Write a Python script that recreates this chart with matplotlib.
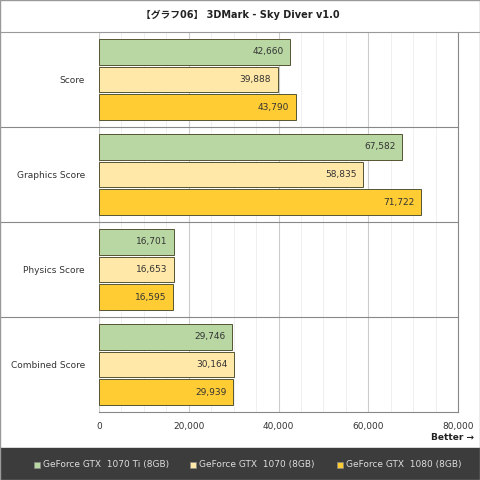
import matplotlib.pyplot as plt
import numpy as np

plt.rcParams['font.family'] = ['DejaVu Sans', 'Noto Sans CJK JP']

categories = ["Score", "Graphics Score", "Physics Score", "Combined Score"]
series = ["GeForce GTX  1070 Ti (8GB)", "GeForce GTX  1070 (8GB)", "GeForce GTX  1080 (8GB)"]
values = [
    [42660, 67582, 16701, 29746],
    [39888, 58835, 16653, 30164],
    [43790, 71722, 16595, 29939],
]
colors = ["#b8d7a3", "#ffe8a8", "#ffcc33"]

fig = plt.figure(figsize=(4.8, 4.8), dpi=100)
W, H = 480, 480
ax = fig.add_axes([99 / W, (H - 412) / H, (458 - 99) / W, (412 - 32) / H])

ax.set_xlim(0, 80000)
ax.set_ylim(len(categories), 0)
ax.set_xticks(np.arange(0, 80001, 20000))
ax.set_xticklabels([f"{v:,}" for v in range(0, 80001, 20000)], fontsize=6.5, color="#333333")
ax.set_xticks(np.arange(0, 80001, 5000), minor=True)
ax.grid(True, axis="x", which="major", color="#cccccc", lw=0.8)
ax.grid(True, axis="x", which="minor", color="#eeeeee", lw=0.6)
ax.set_axisbelow(True)
ax.tick_params(axis="x", which="both", length=0, pad=7)
ax.tick_params(axis="y", length=0, pad=10)
ax.set_yticks(np.arange(len(categories)) + 0.5)
ax.set_yticklabels(categories, fontsize=6.5, color="#333333")
for s in ["top", "left", "right"]:
    ax.spines[s].set_visible(False)
ax.spines["bottom"].set_color("#888888")

offsets = [-0.29, 0.0, 0.29]
for i, (name, vals, c) in enumerate(zip(series, values, colors)):
    y = np.arange(len(categories)) + 0.5 + offsets[i]
    ax.barh(y, vals, height=0.265, color=c, edgecolor="#555533", lw=0.7)
    for yy, v in zip(y, vals):
        ax.text(v - 1500, yy, f"{v:,}", ha="right", va="center", fontsize=6.5, color="#333333")

for k in range(1, len(categories)):
    ax.plot([-99 / 359 * 80000, 80000], [k, k], color="#888888", lw=0.8, clip_on=False)
ax.plot([80000, 80000], [0, len(categories)], color="#888888", lw=0.8, clip_on=False)

# title band and border
fig.text(0.5, 1 - 15 / H, "【グラフ06】 3DMark - Sky Diver v1.0", ha="center", va="center",
         fontsize=7, fontweight="bold", color="#222222")
fig.add_artist(plt.Line2D([0, 1], [1 - 32 / H] * 2, color="#999999", lw=0.8))
fig.text(474 / W, 1 - 438 / H, "Better →", ha="right", va="center", fontsize=6.5,
         fontweight="bold", color="#222222")

# legend band
fig.add_artist(plt.Rectangle((0, 0), 1, 32 / H, color="#3c3c3c", transform=fig.transFigure))
lx = [34, 190, 337]
for x0, name, c in zip(lx, series, colors):
    fig.add_artist(plt.Rectangle((x0 / W, (16 - 4) / H), 6 / W, 6 / H, facecolor=c,
                                 edgecolor="#888888", lw=0.5, transform=fig.transFigure))
    fig.text((x0 + 9) / W, 16 / H, name, ha="left", va="center", fontsize=6.5, color="#dddddd")
fig.add_artist(plt.Rectangle((0, 0), 1, 1, fill=False, edgecolor="#999999", lw=1,
                             transform=fig.transFigure))

fig.savefig("out.png", dpi=100)
